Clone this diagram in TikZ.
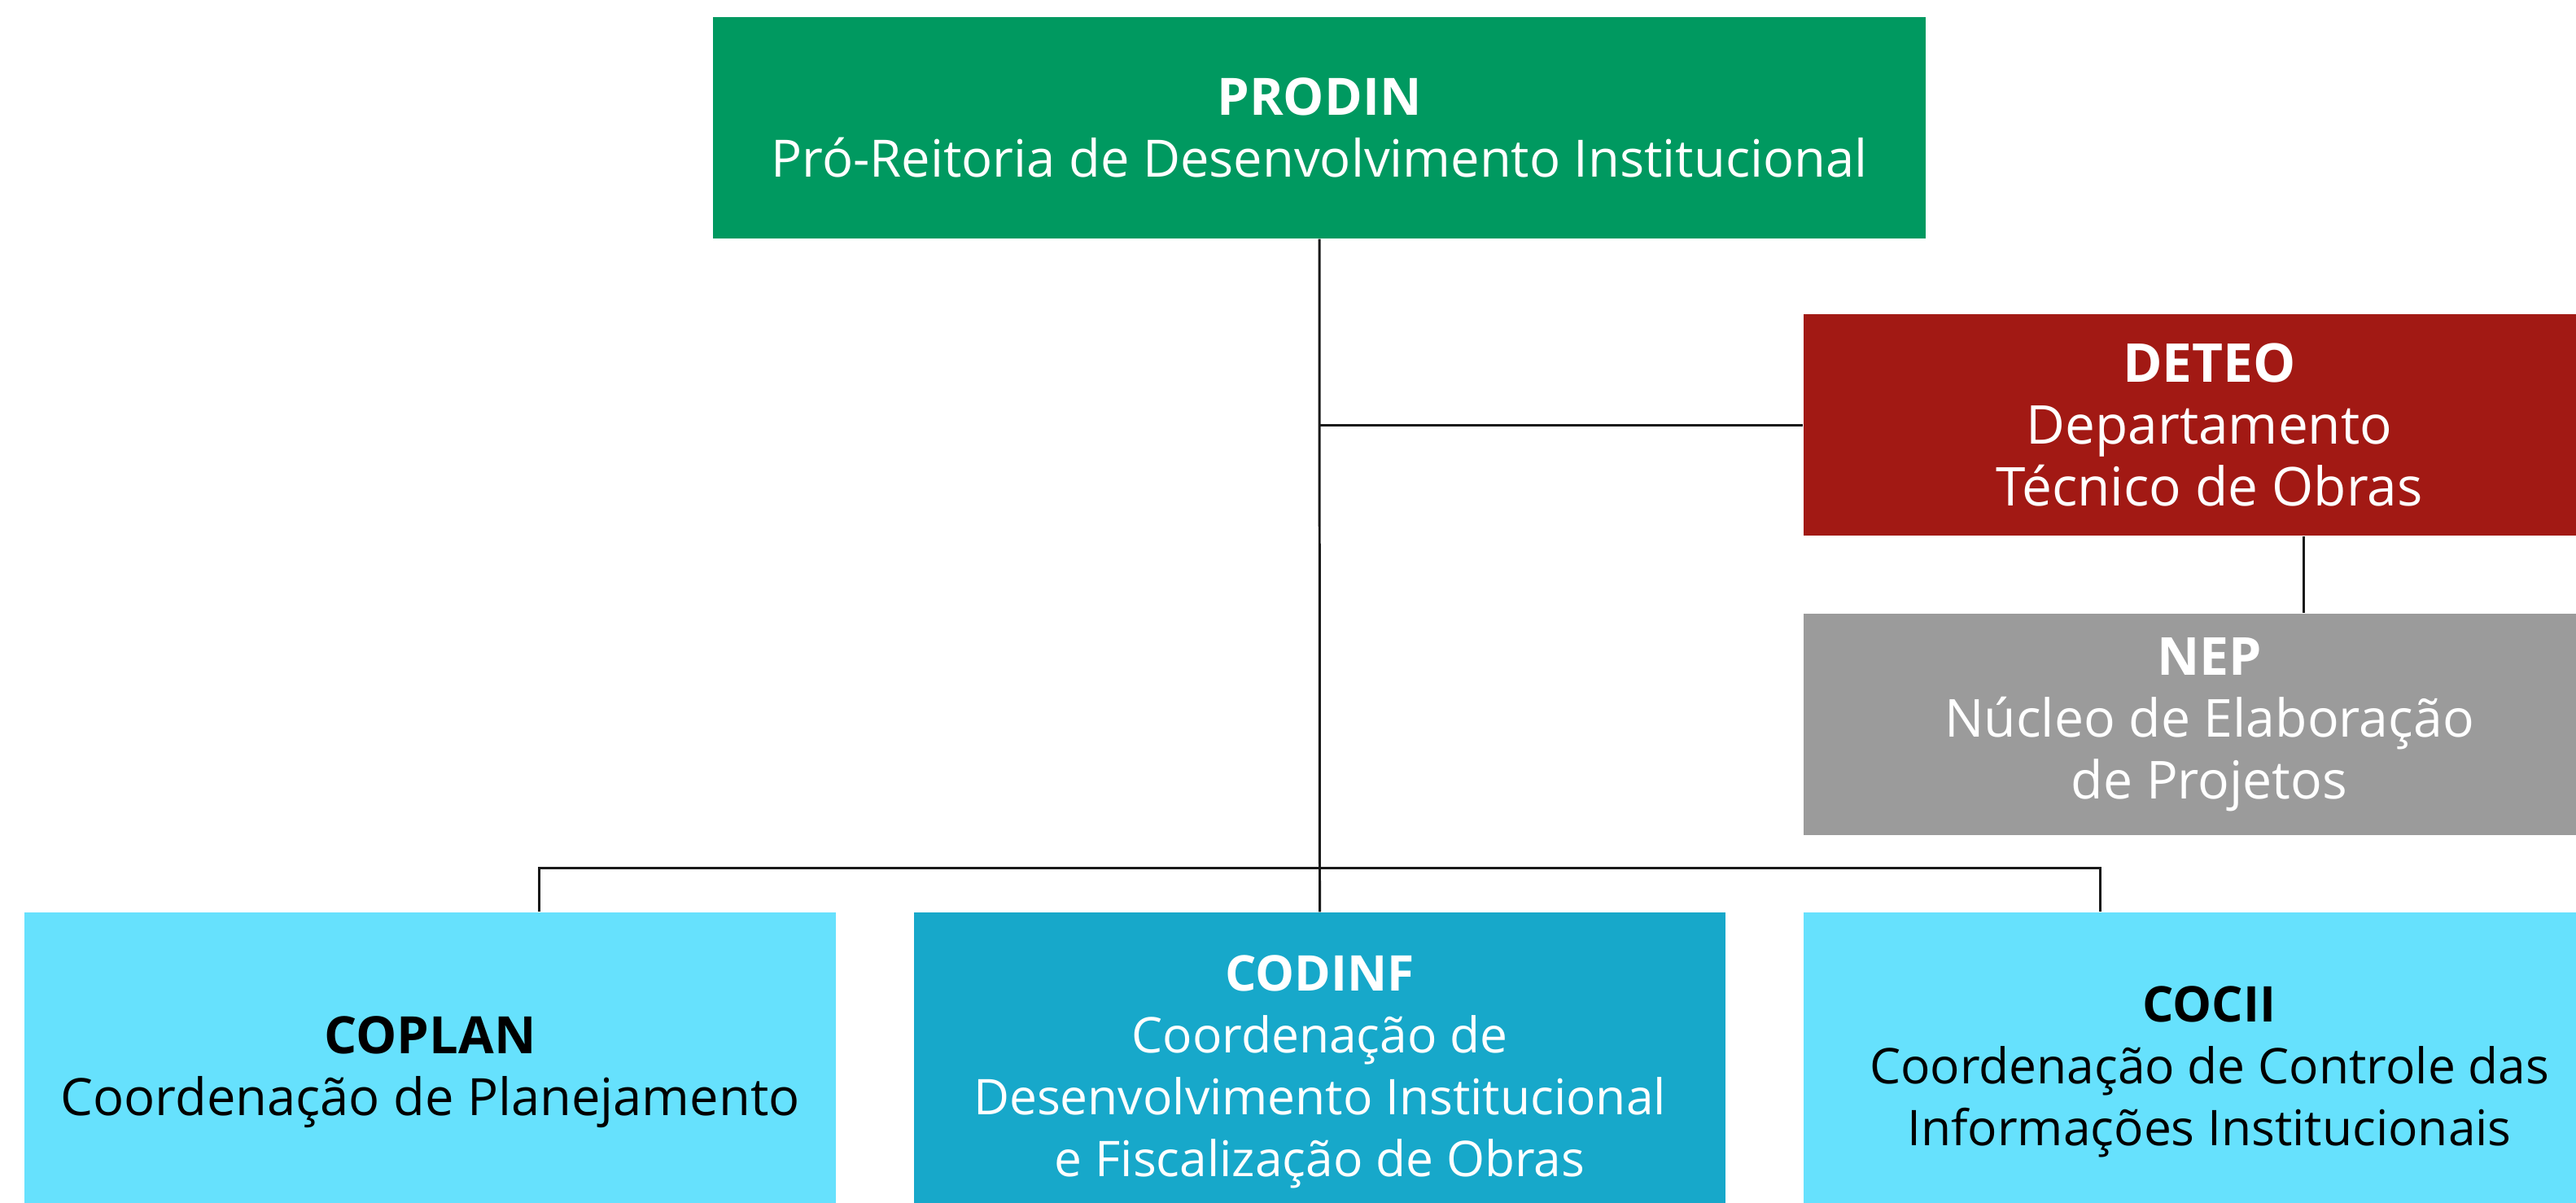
\documentclass[tikz,border=0pt]{standalone}
\usepackage{fontspec}
\setmainfont{Open Sans}
\usepackage{tikz}

\definecolor{prodingreen}{RGB}{0,153,96}
\definecolor{deteored}{RGB}{162,25,20}
\definecolor{nepgray}{RGB}{155,155,155}
\definecolor{coordcyan}{RGB}{102,225,253}
\definecolor{codinfblue}{RGB}{23,168,202}

\tikzset{
	unit/.style={shape=rectangle,inner sep=0pt,align=center,
		font=\fontsize{18}{21.6}\selectfont},
	wideunit/.style={unit,minimum width=14.9cm,minimum height=2.72cm},
	sideunit/.style={unit,minimum width=9.97cm,minimum height=2.72cm},
	lowunit/.style={unit,minimum width=9.97cm,minimum height=3.92cm},
	link/.style={draw=black!90,line width=0.85pt}
}

\begin{document}
\begin{tikzpicture}
	\useasboundingbox (0,0) rectangle (31.65,-14.77);

	\node[wideunit,fill=prodingreen,text=white] (prodin) at (16.21,-1.57)
		{\textbf{PRODIN}\\Pró-Reitoria de Desenvolvimento Institucional};
	\node[sideunit,fill=deteored,text=white,font=\fontsize{18.7}{21.6}\selectfont] (deteo) at (27.145,-5.22)
		{\textbf{DETEO}\\Departamento\\Técnico de Obras};
	\node[sideunit,fill=nepgray,text=white,font=\fontsize{18.3}{21.6}\selectfont] (nep) at (27.145,-8.90)
		{\textbf{NEP}\\Núcleo de Elaboração\\de Projetos};
	\node[lowunit,fill=coordcyan,text=black] (coplan) at (5.285,-13.17)
		{\textbf{COPLAN}\\Coordenação de Planejamento};
	\node[lowunit,fill=codinfblue,text=white,font=\fontsize{17.2}{21.6}\selectfont] (codinf) at (16.215,-13.17)
		{\textbf{CODINF}\\Coordenação de\\Desenvolvimento Institucional\\e Fiscalização de Obras};
	\node[lowunit,fill=coordcyan,text=black,font=\fontsize{17.2}{21.6}\selectfont] (cocii) at (27.145,-13.17)
		{\textbf{COCII}\\Coordenação de Controle das\\Informações Institucionais};

	\path[link] (prodin.south) -- (codinf.north);
	\path[link] (prodin.south |- deteo.west) -- (deteo.west);
	\path[link] ([xshift=1.16cm]deteo.south) -- ([xshift=1.16cm]nep.north);
	\path[link] ([xshift=1.34cm]coplan.north) -- ++(0,0.54cm)
		-| ([xshift=-1.34cm]cocii.north);

\end{tikzpicture}
\end{document}
